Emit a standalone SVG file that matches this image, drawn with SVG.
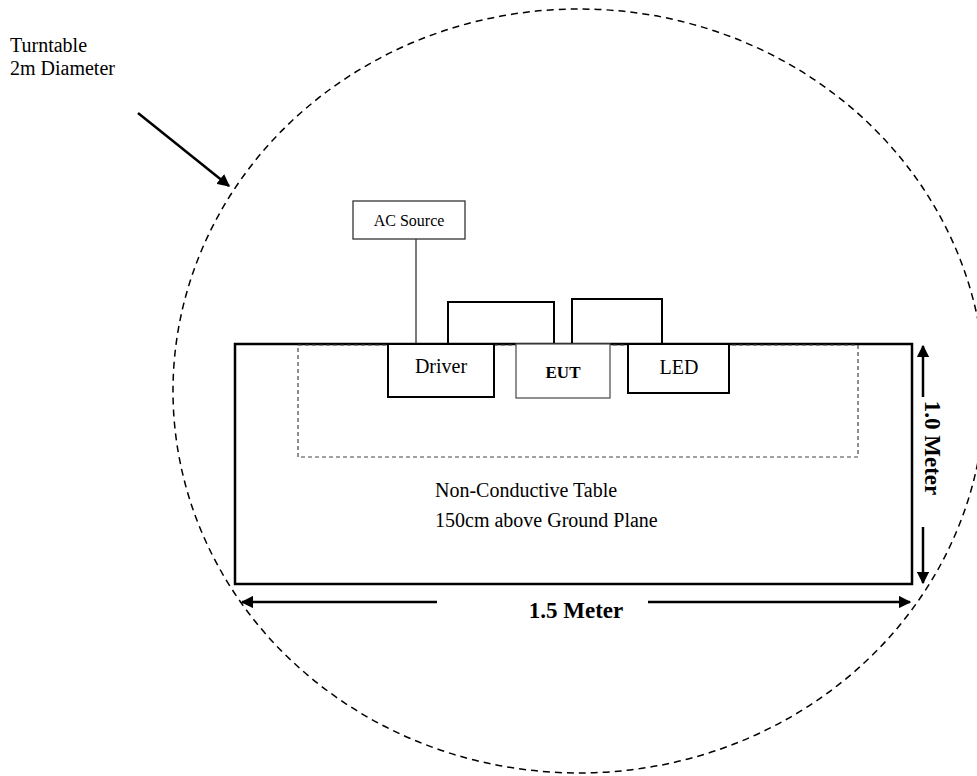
<svg xmlns="http://www.w3.org/2000/svg" width="977" height="776" viewBox="0 0 977 776">
<style>
.t{font-family:"Liberation Serif","Times New Roman",serif;fill:#000}
.box{fill:#fff;stroke:#000;stroke-width:2}
.wire{fill:none;stroke:#000;stroke-width:2}
.dim{fill:none;stroke:#000;stroke-width:2.5}
</style>
<defs>
<marker id="ah" viewBox="0 0 10 10" refX="9" refY="5" markerWidth="5" markerHeight="5" markerUnits="strokeWidth" orient="auto">
<path d="M0,0 L10,5 L0,10 z" fill="#000"/>
</marker>
</defs>
<rect width="977" height="776" fill="#fff"/>
<g id="turntable">
<ellipse cx="579" cy="391" rx="406" ry="382" fill="none" stroke="#000" stroke-width="1.5" stroke-dasharray="7,5"/>
<text class="t" x="10" y="52" font-size="20">Turntable</text>
<text class="t" x="10" y="75" font-size="20">2m Diameter</text>
</g>
<g id="table">
<rect x="235" y="344" width="677" height="240" fill="none" stroke="#000" stroke-width="2.5"/>
<rect x="298" y="345" width="560" height="112" fill="none" stroke="#444" stroke-width="1.2" stroke-dasharray="4,3"/>
<text class="t" x="435" y="497" font-size="20">Non-Conductive Table</text>
<text class="t" x="435" y="527" font-size="20">150cm above Ground Plane</text>
</g>
<g id="connectors">
<line x1="138" y1="113" x2="229" y2="186" class="dim" marker-end="url(#ah)"/>
<line x1="416" y1="239" x2="416" y2="344" stroke="#333" stroke-width="1.3"/>
<polyline points="448,344 448,302 554,302 554,344" class="wire"/>
<polyline points="572,344 572,299 662,299 662,344" class="wire"/>
<line x1="923" y1="397" x2="923" y2="346" class="dim" marker-end="url(#ah)"/>
<line x1="923" y1="527" x2="923" y2="583" class="dim" marker-end="url(#ah)"/>
<line x1="437" y1="602" x2="242" y2="602" class="dim" marker-end="url(#ah)"/>
<line x1="648" y1="602" x2="910" y2="602" class="dim" marker-end="url(#ah)"/>
</g>
<g id="ac-source">
<rect x="353" y="201" width="112" height="38" fill="#fff" stroke="#333" stroke-width="1.3"/>
<text class="t" x="409" y="226" font-size="16" text-anchor="middle">AC Source</text>
</g>
<g id="driver">
<rect x="388" y="344" width="106" height="53" class="box"/>
<text class="t" x="441" y="373" font-size="20" text-anchor="middle">Driver</text>
</g>
<g id="eut">
<rect x="516" y="344" width="94" height="54" fill="#fff" stroke="#555" stroke-width="1.3"/>
<text class="t" x="563" y="378" font-size="17" font-weight="bold" text-anchor="middle">EUT</text>
</g>
<g id="led">
<rect x="628" y="344" width="101" height="49" class="box"/>
<text class="t" x="679" y="374" font-size="20" text-anchor="middle">LED</text>
</g>
<g id="dimensions">
<text class="t" x="932" y="448" font-size="23" font-weight="bold" text-anchor="middle" dominant-baseline="central" transform="rotate(90 932 448)">1.0 Meter</text>
<text class="t" x="576" y="618" font-size="23" font-weight="bold" text-anchor="middle">1.5 Meter</text>
</g>
</svg>
